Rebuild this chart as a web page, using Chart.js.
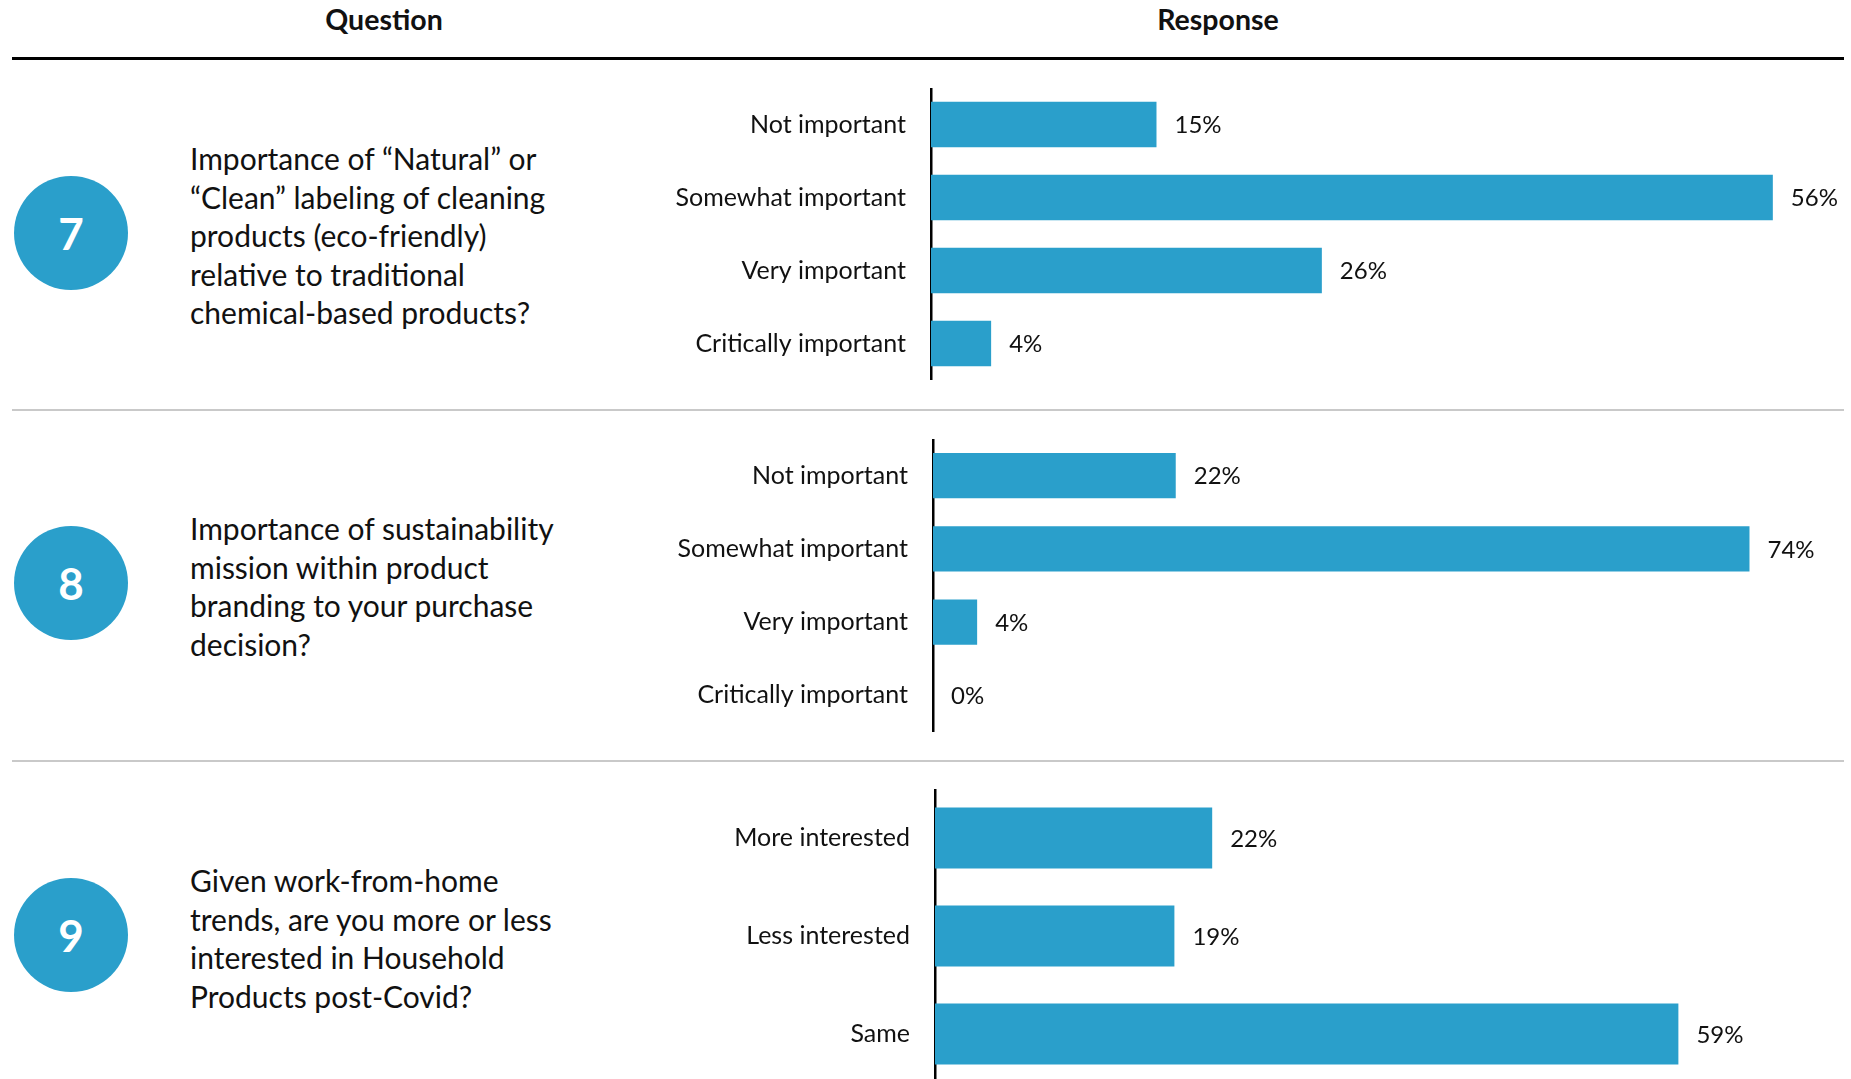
<!DOCTYPE html>
<html>
<head>
<meta charset="utf-8">
<script src="https://cdn.jsdelivr.net/npm/chart.js@4.4.1/dist/chart.umd.min.js"></script>
<style>
  html, body { margin: 0; padding: 0; background: #fff; overflow: hidden; }
  body { width: 1851px; height: 1079px; position: relative; font-family: Lato, "Open Sans", sans-serif; color: #111; }
  .head { position: absolute; top: 2px; font-weight: bold; font-size: 28.5px; transform: translateX(-50%); }
  .rule { position: absolute; left: 12px; width: 1832px; }
  .badge { position: absolute; width: 114px; height: 114px; border-radius: 50%; background: #2a9fcb; color: #fff;
           font-weight: bold; font-size: 44px; display: flex; align-items: center; justify-content: center; }
  .question { position: absolute; left: 190px; font-size: 30px; line-height: 38.5px; transform: translateY(-50%); }
  .chart { position: absolute; left: 640px; width: 1211px; }
</style>
</head>
<body>
<div class="head" style="left:384px">Question</div>
<div class="head" style="left:1218px">Response</div>
<div class="rule" style="top:57px;height:3px;background:#000"></div>
<div class="rule" style="top:409px;height:2px;background:#c9c9c9"></div>
<div class="rule" style="top:760px;height:2px;background:#c9c9c9"></div>

<div class="badge" style="left:14px;top:176px">7</div>
<div class="badge" style="left:14px;top:526px">8</div>
<div class="badge" style="left:14px;top:878px">9</div>

<div class="question" style="top:235px">Importance of “Natural” or<br>“Clean” labeling of cleaning<br>products (eco-friendly)<br>relative to traditional<br>chemical-based products?</div>
<div class="question" style="top:586px">Importance of sustainability<br>mission within product<br>branding to your purchase<br>decision?</div>
<div class="question" style="top:938px">Given work-from-home<br>trends, are you more or less<br>interested in Household<br>Products post-Covid?</div>

<div class="chart" style="top:88px;height:292px"><canvas id="q7"></canvas></div>
<div class="chart" style="top:439px;height:293px"><canvas id="q8"></canvas></div>
<div class="chart" style="top:789px;height:294px"><canvas id="q9"></canvas></div>

<script>
const importanceLabels = ["Not important", "Somewhat important", "Very important", "Critically important"];
const q7Values = [15, 56, 26, 4];
const q8Values = [22, 74, 4, 0];
const interestLabels = ["More interested", "Less interested", "Same"];
const q9Values = [22, 19, 59];

const BAR_BLUE = "#2a9fcb";
const FONT = "Lato, 'Open Sans', sans-serif";

// writes "NN%" just past the end of each bar
const valueLabels = {
  id: "valueLabels",
  afterDatasetsDraw(chart) {
    const ctx = chart.ctx;
    const meta = chart.getDatasetMeta(0);
    const data = chart.data.datasets[0].data;
    ctx.save();
    ctx.font = "24px " + FONT;
    ctx.fillStyle = "#111";
    ctx.textAlign = "left";
    ctx.textBaseline = "middle";
    meta.data.forEach((bar, i) => {
      ctx.fillText(data[i] + "%", bar.x + 18, bar.y + 1);
    });
    ctx.restore();
  }
};

function makeChart(id, labels, values, xMax, axisWidth) {
  return new Chart(document.getElementById(id), {
    type: "bar",
    data: {
      labels: labels,
      datasets: [{
        data: values,
        backgroundColor: BAR_BLUE,
        barPercentage: 0.62,
        categoryPercentage: 1,
      }],
    },
    options: {
      indexAxis: "y",
      responsive: true,
      maintainAspectRatio: false,
      animation: false,
      layout: { padding: 0 },
      plugins: { legend: { display: false }, tooltip: { enabled: false } },
      scales: {
        x: { display: false, min: 0, max: xMax },
        y: {
          grid: { display: false },
          border: { display: true, color: "#000", width: 2.5 },
          ticks: { color: "#111", font: { family: FONT, size: 25 }, padding: 17 },
          afterFit(scale) {
            // fixed label column; the tick padding shouldn't shrink the bar area vertically
            scale.width = axisWidth;
            scale.paddingTop = 0;
            scale.paddingBottom = 0;
          },
        },
      },
    },
    plugins: [valueLabels],
  });
}

makeChart("q7", importanceLabels, q7Values, 61.2, 291);
makeChart("q8", importanceLabels, q8Values, 83.2, 293);
makeChart("q9", interestLabels, q9Values, 72.7, 295);
</script>
</body>
</html>
